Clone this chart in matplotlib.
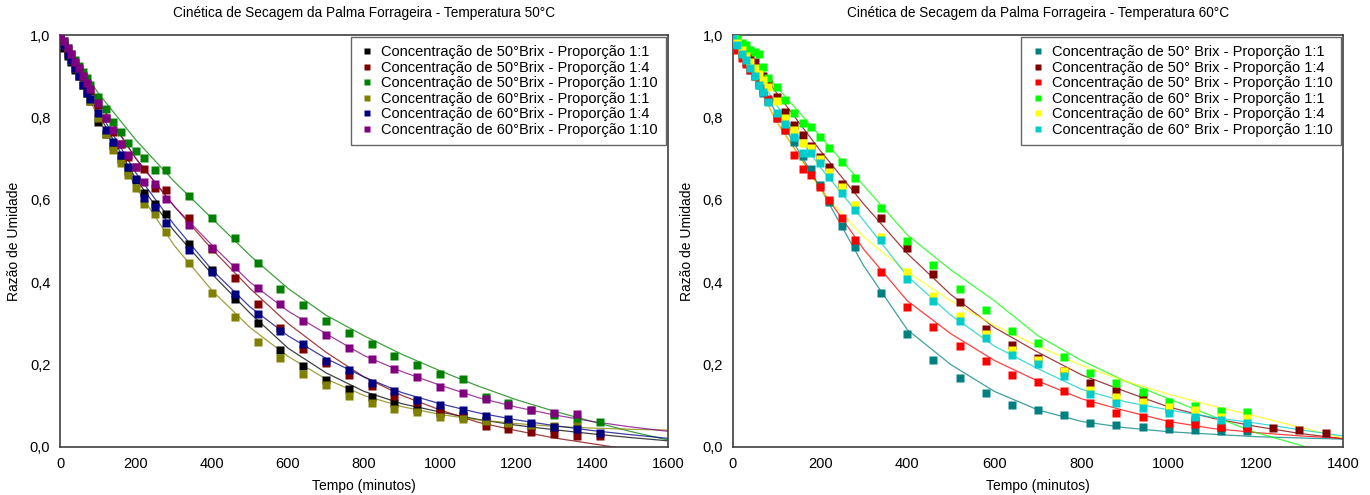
import matplotlib
matplotlib.use("Agg")
import matplotlib.pyplot as plt
from matplotlib.ticker import FuncFormatter, MultipleLocator

plt.rcParams['font.family'] = ['Liberation Sans', 'DejaVu Sans']

# tempos de amostragem (min)
tempo = [0, 10, 20, 30, 40, 50, 60, 70, 80, 100, 120, 140, 160, 180, 200, 220, 250, 280,
         340, 400, 460, 520, 580, 640, 700, 760, 820, 880, 940, 1000, 1060, 1120, 1180,
         1240, 1300, 1360, 1420]

# ---- 50 graus C: razao de umidade observada ----
t50_b50_11 = [1.0, 0.97, 0.95, 0.935, 0.915, 0.9, 0.88, 0.86, 0.84, 0.79, 0.76, 0.73, 0.7, 0.67,
              0.648, 0.617, 0.59, 0.565, 0.494, 0.43, 0.36, 0.301, 0.235, 0.196, 0.163, 0.14,
              0.121, 0.106, 0.092, 0.082, 0.075, 0.065, 0.057, 0.05, 0.045]
t50_b50_14 = [1.0, 0.98, 0.965, 0.95, 0.93, 0.915, 0.9, 0.88, 0.865, 0.83, 0.8, 0.765, 0.735, 0.705,
              0.68, 0.674, 0.63, 0.625, 0.555, 0.48, 0.41, 0.348, 0.29, 0.239, 0.204, 0.175,
              0.147, 0.125, 0.109, 0.089, 0.076, 0.052, 0.044, 0.037, 0.032, 0.027, 0.026]
t50_b50_110 = [1.0, 0.985, 0.97, 0.955, 0.94, 0.925, 0.91, 0.895, 0.88, 0.85, 0.82, 0.79, 0.764, 0.737,
               0.719, 0.702, 0.672, 0.672, 0.61, 0.557, 0.507, 0.446, 0.384, 0.344, 0.305, 0.276,
               0.25, 0.222, 0.199, 0.178, 0.166, 0.121, 0.106, 0.09, 0.077, 0.067, 0.061]
t50_b60_11 = [1.0, 0.975, 0.955, 0.94, 0.92, 0.9, 0.88, 0.86, 0.84, 0.8, 0.76, 0.72, 0.69, 0.66,
              0.63, 0.59, 0.566, 0.521, 0.446, 0.374, 0.315, 0.256, 0.216, 0.178, 0.15, 0.125,
              0.108, 0.092, 0.084, 0.072, 0.067, 0.064, 0.059, 0.054, 0.05, 0.05]
t50_b60_14 = [1.0, 0.975, 0.955, 0.94, 0.92, 0.9, 0.88, 0.86, 0.845, 0.81, 0.77, 0.74, 0.71, 0.68,
              0.65, 0.605, 0.583, 0.544, 0.478, 0.424, 0.371, 0.322, 0.282, 0.249, 0.208, 0.186,
              0.156, 0.135, 0.115, 0.101, 0.09, 0.076, 0.068, 0.059, 0.048, 0.044, 0.033]
t50_b60_110 = [1.0, 0.985, 0.97, 0.955, 0.935, 0.92, 0.9, 0.885, 0.87, 0.835, 0.8, 0.77, 0.735, 0.71,
               0.68, 0.644, 0.638, 0.602, 0.54, 0.482, 0.437, 0.387, 0.346, 0.306, 0.273, 0.241,
               0.213, 0.19, 0.169, 0.145, 0.131, 0.116, 0.101, 0.09, 0.083, 0.081]

# curvas ajustadas a 50 C
tempo_aj50 = [0, 100, 200, 300, 400, 500, 600, 700, 800, 900, 1000, 1100, 1200, 1300, 1400, 1500, 1600]
aj50_b50_11 = [1.0, 0.81, 0.65, 0.525, 0.42, 0.325, 0.24, 0.18, 0.135, 0.105, 0.085, 0.067, 0.053, 0.042, 0.032, 0.023, 0.015]
aj50_b50_14 = [1.0, 0.84, 0.7, 0.585, 0.48, 0.385, 0.3, 0.23, 0.17, 0.125, 0.09, 0.06, 0.04, 0.022, 0.008, -0.006, -0.02]
aj50_b50_110 = [1.0, 0.86, 0.745, 0.645, 0.555, 0.465, 0.385, 0.32, 0.27, 0.225, 0.185, 0.148, 0.115, 0.087, 0.062, 0.038, 0.017]
aj50_b60_11 = [1.0, 0.8, 0.63, 0.49, 0.38, 0.29, 0.22, 0.165, 0.125, 0.098, 0.079, 0.066, 0.057, 0.05, 0.046, 0.043, 0.041]
aj50_b60_14 = [1.0, 0.82, 0.665, 0.54, 0.43, 0.34, 0.27, 0.215, 0.17, 0.132, 0.105, 0.083, 0.066, 0.052, 0.04, 0.03, 0.021]
aj50_b60_110 = [1.0, 0.84, 0.7, 0.585, 0.49, 0.40, 0.33, 0.275, 0.222, 0.183, 0.15, 0.12, 0.097, 0.078, 0.062, 0.049, 0.038]

# ---- 60 graus C ----
t60_b50_11 = [1.0, 0.975, 0.955, 0.935, 0.915, 0.9, 0.88, 0.86, 0.84, 0.8, 0.77, 0.74, 0.706, 0.675,
              0.635, 0.595, 0.536, 0.486, 0.375, 0.274, 0.211, 0.167, 0.132, 0.101, 0.09, 0.078,
              0.058, 0.053, 0.049, 0.044, 0.041, 0.04, 0.04]
t60_b50_14 = [1.0, 0.98, 0.97, 0.96, 0.95, 0.935, 0.92, 0.9, 0.885, 0.85, 0.814, 0.782, 0.757, 0.73,
              0.705, 0.679, 0.638, 0.626, 0.557, 0.484, 0.42, 0.352, 0.286, 0.247, 0.215, 0.185,
              0.156, 0.137, 0.122, 0.095, 0.065, 0.049, 0.051, 0.045, 0.041, 0.035]
t60_b50_110 = [0.985, 0.965, 0.945, 0.93, 0.915, 0.9, 0.885, 0.865, 0.845, 0.8, 0.77, 0.71, 0.676, 0.66,
               0.632, 0.6, 0.557, 0.502, 0.426, 0.339, 0.291, 0.246, 0.209, 0.176, 0.157, 0.135,
               0.106, 0.083, 0.072, 0.059, 0.055, 0.049, 0.045]
t60_b60_11 = [1.0, 0.99, 0.98, 0.975, 0.965, 0.96, 0.954, 0.923, 0.895, 0.873, 0.842, 0.811, 0.786, 0.776,
              0.753, 0.727, 0.691, 0.654, 0.581, 0.501, 0.441, 0.383, 0.333, 0.282, 0.252, 0.219,
              0.18, 0.156, 0.133, 0.11, 0.1, 0.088, 0.085]
t60_b60_14 = [1.0, 0.98, 0.965, 0.95, 0.935, 0.92, 0.905, 0.89, 0.875, 0.84, 0.8, 0.77, 0.737, 0.725,
              0.7, 0.668, 0.632, 0.587, 0.51, 0.426, 0.367, 0.318, 0.274, 0.235, 0.211, 0.184,
              0.138, 0.121, 0.11, 0.098, 0.091, 0.074, 0.07]
t60_b60_110 = [1.0, 0.975, 0.955, 0.94, 0.92, 0.9, 0.88, 0.862, 0.838, 0.81, 0.784, 0.753, 0.714, 0.714,
               0.689, 0.656, 0.616, 0.575, 0.502, 0.409, 0.354, 0.307, 0.264, 0.223, 0.201, 0.173,
               0.128, 0.108, 0.094, 0.082, 0.074, 0.066, 0.058]

tempo_aj60 = [0, 100, 200, 300, 400, 500, 600, 700, 800, 900, 1000, 1100, 1200, 1300, 1400]
aj60_b50_11 = [1.0, 0.81, 0.63, 0.44, 0.285, 0.2, 0.135, 0.09, 0.062, 0.047, 0.037, 0.031, 0.025, 0.022, 0.019]
aj60_b50_14 = [1.0, 0.86, 0.72, 0.59, 0.47, 0.37, 0.29, 0.23, 0.175, 0.135, 0.097, 0.07, 0.05, 0.033, 0.02]
aj60_b50_110 = [1.0, 0.79, 0.63, 0.48, 0.355, 0.275, 0.21, 0.16, 0.117, 0.088, 0.062, 0.045, 0.035, 0.027, 0.021]
aj60_b60_11 = [1.0, 0.875, 0.755, 0.635, 0.515, 0.43, 0.355, 0.27, 0.21, 0.16, 0.117, 0.075, 0.035, 0.005, -0.03]
aj60_b60_14 = [1.0, 0.79, 0.625, 0.51, 0.425, 0.355, 0.295, 0.245, 0.198, 0.16, 0.128, 0.1, 0.075, 0.048, 0.022]
aj60_b60_110 = [1.0, 0.83, 0.68, 0.55, 0.415, 0.32, 0.245, 0.19, 0.14, 0.11, 0.09, 0.072, 0.058, 0.042, 0.027]

labels50 = ['Concentração de 50°Brix - Proporção 1:1', 'Concentração de 50°Brix - Proporção 1:4',
            'Concentração de 50°Brix - Proporção 1:10', 'Concentração de 60°Brix - Proporção 1:1',
            'Concentração de 60°Brix - Proporção 1:4', 'Concentração de 60°Brix - Proporção 1:10']
labels60 = ['Concentração de 50° Brix - Proporção 1:1', 'Concentração de 50° Brix - Proporção 1:4',
            'Concentração de 50° Brix - Proporção 1:10', 'Concentração de 60° Brix - Proporção 1:1',
            'Concentração de 60° Brix - Proporção 1:4', 'Concentração de 60° Brix - Proporção 1:10']
cores50 = ['#000000', '#800000', '#008000', '#808000', '#000080', '#800080']
cores60 = ['#008080', '#800000', '#ff0000', '#00ff00', '#ffff00', '#00cccc']

fig = plt.figure(figsize=(13.7, 4.95), dpi=100)
ax1 = fig.add_axes([0.0438, 0.097, 0.4438, 0.832])
ax2 = fig.add_axes([0.535, 0.097, 0.4453, 0.832])

def painel(ax, obs, ajs, tempo_aj, cores, labels, xmax, titulo):
    for y, c in zip(ajs, cores):
        ax.plot(tempo_aj, y, color=c, lw=0.9, alpha=0.75, zorder=2)
    for y, c, lab in zip(obs, cores, labels):
        ax.plot(tempo[:len(y)], y, ls='none', marker='s', ms=5.8, mec='none', color=c, label=lab, zorder=3)
    ax.set_xlim(0, xmax)
    ax.set_ylim(0, 1.0)
    ax.xaxis.set_major_locator(MultipleLocator(200))
    ax.yaxis.set_major_locator(MultipleLocator(0.2))
    ax.yaxis.set_major_formatter(FuncFormatter(lambda v, p: ('%.1f' % v).replace('.', ',')))
    ax.tick_params(length=0, labelsize=10.5, pad=7)
    ax.set_title(titulo, fontsize=9.8, pad=13)
    ax.set_xlabel('Tempo (minutos)', fontsize=10, labelpad=6)
    ax.set_ylabel('Razão de Umidade', fontsize=10, labelpad=6)
    for s in ax.spines.values():
        s.set_color('#404040')
        s.set_linewidth(1.2)
    leg = ax.legend(loc='upper right', fontsize=10.5, frameon=True, fancybox=False,
                    edgecolor='#404040', borderaxespad=0.15, handletextpad=0.35,
                    labelspacing=0.1, handlelength=1.2, markerscale=0.85, borderpad=0.55)
    leg.get_frame().set_linewidth(1.0)

painel(ax1, [t50_b50_11, t50_b50_14, t50_b50_110, t50_b60_11, t50_b60_14, t50_b60_110],
       [aj50_b50_11, aj50_b50_14, aj50_b50_110, aj50_b60_11, aj50_b60_14, aj50_b60_110],
       tempo_aj50, cores50, labels50, 1600,
       'Cinética de Secagem da Palma Forrageira - Temperatura 50°C')
painel(ax2, [t60_b50_11, t60_b50_14, t60_b50_110, t60_b60_11, t60_b60_14, t60_b60_110],
       [aj60_b50_11, aj60_b50_14, aj60_b50_110, aj60_b60_11, aj60_b60_14, aj60_b60_110],
       tempo_aj60, cores60, labels60, 1400,
       'Cinética de Secagem da Palma Forrageira - Temperatura 60°C')

fig.savefig('out.png', dpi=100)
